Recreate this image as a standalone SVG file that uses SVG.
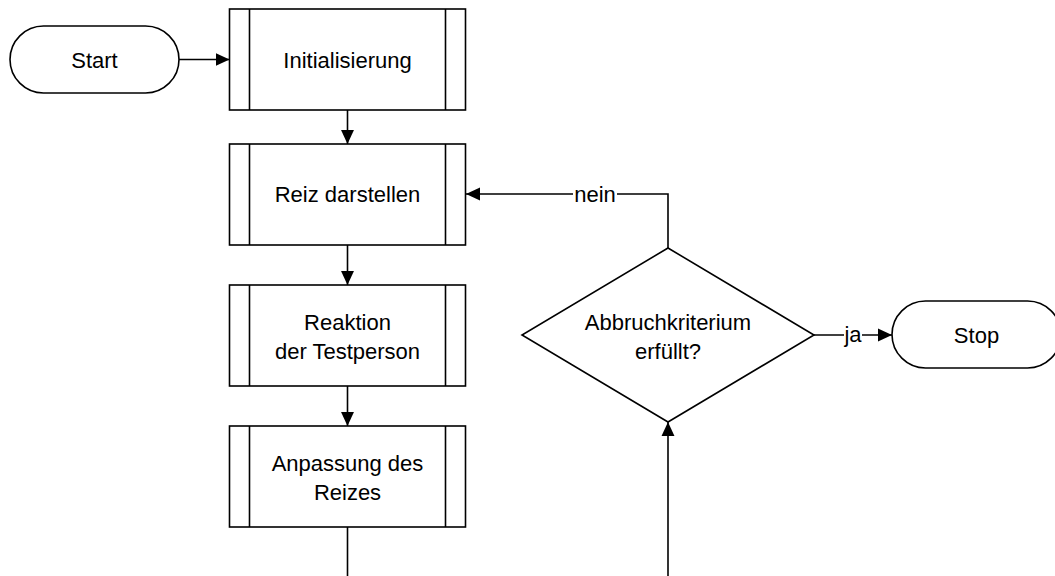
<svg xmlns="http://www.w3.org/2000/svg" width="1055" height="576" viewBox="0 0 1055 576">
<style>
.shape{fill:#fff;stroke:#000;stroke-width:1.6}
.line{fill:none;stroke:#000;stroke-width:1.6}
text{font-family:"Liberation Sans",Arial,sans-serif;font-size:22px;fill:#000;text-anchor:middle}
.lbl{fill:#fff;stroke:none}
</style>
<defs>
<marker id="arr" markerUnits="userSpaceOnUse" markerWidth="14" markerHeight="14" viewBox="0 0 13 12" refX="13" refY="6" orient="auto">
<path d="M0,0 L13,6 L0,12 Z" fill="#000"/>
</marker>
</defs>
<rect width="1055" height="576" fill="#fff"/>
<g id="connectors">
<path class="line" d="M179,59.5 H229.5" marker-end="url(#arr)"/>
<path class="line" d="M347.5,110 V144" marker-end="url(#arr)"/>
<path class="line" d="M347.5,245 V285" marker-end="url(#arr)"/>
<path class="line" d="M347.5,386 V426" marker-end="url(#arr)"/>
<path class="line" d="M347.5,527 V576"/>
<path class="line" d="M668,248 V194 H466" marker-end="url(#arr)"/>
<path class="line" d="M668,576 V422" marker-end="url(#arr)"/>
<path class="line" d="M814,335 H892" marker-end="url(#arr)"/>
<rect class="lbl" x="573" y="184" width="44" height="20"/>
<text x="595" y="201.5">nein</text>
<rect class="lbl" x="844" y="325" width="18" height="20"/>
<text x="853" y="342">ja</text>
</g>
<g id="start">
<rect class="shape" x="10" y="26" width="169" height="67" rx="33.5" ry="33.5"/>
<text x="94.5" y="67.5">Start</text>
</g>
<g id="init">
<rect class="shape" x="229.5" y="9" width="236" height="101"/>
<path class="line" d="M249.5,9 V110 M445.5,9 V110"/>
<text x="347.5" y="67.5">Initialisierung</text>
</g>
<g id="reiz">
<rect class="shape" x="229.5" y="144" width="236" height="101"/>
<path class="line" d="M249.5,144 V245 M445.5,144 V245"/>
<text x="347.5" y="202">Reiz darstellen</text>
</g>
<g id="reaktion">
<rect class="shape" x="229.5" y="285" width="236" height="101"/>
<path class="line" d="M249.5,285 V386 M445.5,285 V386"/>
<text x="347.5" y="329.5">Reaktion</text>
<text x="347.5" y="358.5">der Testperson</text>
</g>
<g id="anpassung">
<rect class="shape" x="229.5" y="426" width="236" height="101"/>
<path class="line" d="M249.5,426 V527 M445.5,426 V527"/>
<text x="347.5" y="471">Anpassung des</text>
<text x="347.5" y="499.5">Reizes</text>
</g>
<g id="decision">
<polygon class="shape" points="668,248 814,335 668,422 522,335"/>
<text x="668" y="329.5">Abbruchkriterium</text>
<text x="668" y="358.5">erfüllt?</text>
</g>
<g id="stop">
<rect class="shape" x="892" y="301" width="169" height="67" rx="33.5" ry="33.5"/>
<text x="976.5" y="342.5">Stop</text>
</g>
</svg>
